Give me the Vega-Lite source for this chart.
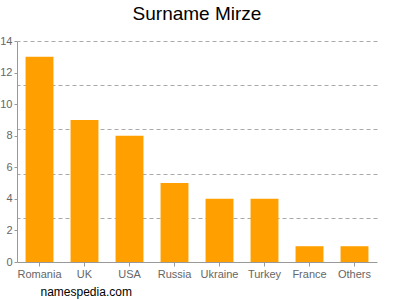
{
  "$schema": "https://vega.github.io/schema/vega-lite/v6.json",
  "width": 360,
  "height": 221,
  "autosize": {"type": "none"},
  "padding": {"left": 17, "top": 41, "right": 23, "bottom": 38},
  "background": "white",
  "config": {"view": {"stroke": null}, "font": "Liberation Sans"},
  "title": {"text": "Surname Mirze", "fontSize": 19, "fontWeight": "normal", "color": "#000000", "offset": 11, "font": "Liberation Sans"},
  "data": {"values": [
    {"country": "Romania", "count": 13},
    {"country": "UK", "count": 9},
    {"country": "USA", "count": 8},
    {"country": "Russia", "count": 5},
    {"country": "Ukraine", "count": 4},
    {"country": "Turkey", "count": 4},
    {"country": "France", "count": 1},
    {"country": "Others", "count": 1}
  ]},
  "layer": [
    {
      "mark": {"type": "bar", "color": "#ffa000"},
      "encoding": {
        "x": {"field": "country", "type": "nominal", "sort": null,
          "scale": {"paddingInner": 0.38, "paddingOuter": 0.19},
          "axis": {"labelAngle": 0, "labelColor": "#666666", "labelFontSize": 11, "domainColor": "#999999", "tickColor": "#999999", "tickSize": 4, "labelPadding": 2,
            "title": "namespedia.com", "titleAnchor": "start", "titleX": 23, "titleY": 24, "titleFontSize": 12, "titleFontWeight": "normal", "titleColor": "#000000"}},
        "y": {"field": "count", "type": "quantitative",
          "scale": {"domain": [0, 14], "nice": false},
          "axis": {"values": [0, 2, 4, 6, 8, 10, 12, 14], "grid": false, "title": null, "labelColor": "#666666", "labelFontSize": 11, "domainColor": "#999999", "tickColor": "#999999", "tickSize": 3, "labelPadding": 2}}
      }
    },
    {
      "mark": {"type": "bar", "opacity": 0},
      "encoding": {
        "x": {"field": "country", "type": "nominal", "sort": null},
        "y": {"field": "count", "type": "quantitative",
          "axis": {"values": [2.8, 5.6, 8.4, 11.2, 14], "grid": true, "gridDash": [4, 3], "gridColor": "#aaaaaa", "labels": false, "ticks": false, "domain": false, "title": null}}
      }
    }
  ],
  "resolve": {"axis": {"y": "independent", "x": "shared"}}
}
